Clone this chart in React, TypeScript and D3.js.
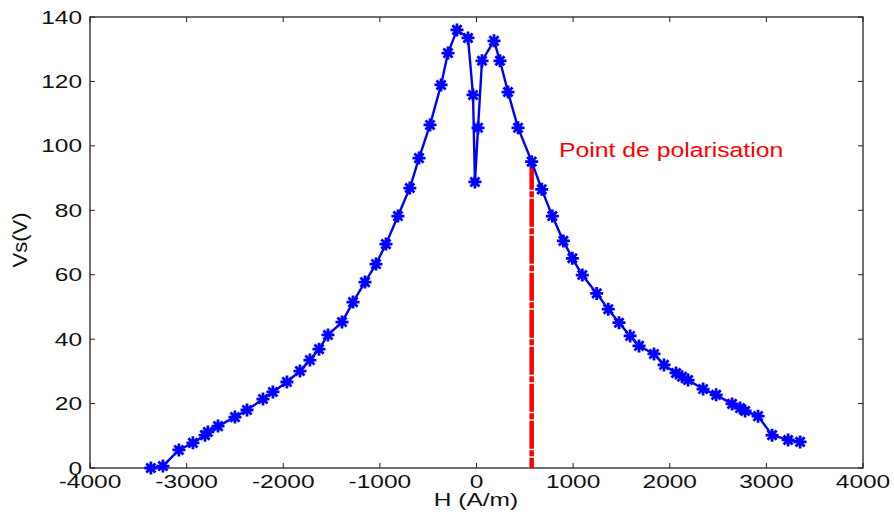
import React from "react";
import * as d3 from "d3";

// H (A/m) and Vs (V) in drawing order
const hValues = [
  -3370, -3245, -3080, -2935, -2810, -2780, -2675, -2500, -2375, -2210,
  -2107, -1962, -1827, -1724, -1630, -1537, -1392, -1278, -1154, -1040,
  -937, -813, -690, -595, -481, -367, -295, -202, -88, -36,
  -16, 16, 57, 181, 243, 326, 430, 571, 675, 785,
  899, 992, 1095, 1244, 1364, 1475, 1590, 1682, 1837, 1941,
  2065, 2127, 2190, 2345, 2480, 2645, 2728, 2780, 2914, 3059,
  3225, 3349,
];
const vsValues = [
  0, 0.6, 5.6, 7.8, 10.2, 11.2, 13, 15.8, 18, 21.4,
  23.6, 26.7, 30.1, 33.5, 36.9, 41.3, 45.3, 51.5, 57.7, 63.3,
  69.5, 78.2, 86.9, 96.2, 106.5, 118.9, 128.8, 136, 133.5, 115.8,
  88.8, 105.6, 126.4, 132.6, 126.4, 116.7, 105.6, 95.1, 86.5, 78.2,
  70.5, 65.1, 59.9, 54.2, 49.3, 45.1, 41, 37.9, 35.4, 32,
  29.5, 28.3, 27.3, 24.5, 22.7, 19.9, 18.6, 17.7, 16.1, 10.2,
  8.7, 8.1,
];
const xTicks = [-4000, -3000, -2000, -1000, 0, 1000, 2000, 3000, 4000];
const yTicks = [0, 20, 40, 60, 80, 100, 120, 140];
const polarH = 571;
const polarVs = 95.1;
const polarLabel = "Point de polarisation";

const W = 894;
const H = 513;
const margin = { top: 17, right: 31, bottom: 45, left: 90 };
const font = "'Liberation Sans', Arial, sans-serif";
const sx = 1.4; // the picture is stretched sideways

export default function App() {
  const x = d3.scaleLinear().domain([-4000, 4000]).range([margin.left, W - margin.right]);
  const y = d3.scaleLinear().domain([0, 140]).range([H - margin.bottom, margin.top]);
  const pts = hValues.map((h, i) => [h, vsValues[i]] as [number, number]);
  const line = d3.line<[number, number]>().x(d => x(d[0])).y(d => y(d[1]));
  const r = 6.5;
  const star = `M${-r},0H${r}M0,${-r}V${r}M${-r * 0.7},${-r * 0.7}L${r * 0.7},${r * 0.7}M${-r * 0.7},${r * 0.7}L${r * 0.7},${-r * 0.7}`;
  const x0 = margin.left, x1 = W - margin.right, y0 = H - margin.bottom, y1 = margin.top;
  const tk = 5;

  return (
    <svg width={W} height={H} style={{ position: "absolute", left: 0, top: 0, background: "#fff" }}>
      <rect x={0} y={0} width={W} height={H} fill="#fff" />
      {/* ticks, all four sides, pointing in */}
      {xTicks.map(t => (
        <g key={"xt" + t} stroke="#222" strokeWidth={1}>
          <line x1={x(t)} x2={x(t)} y1={y0} y2={y0 - tk} />
          <line x1={x(t)} x2={x(t)} y1={y1} y2={y1 + tk} />
        </g>
      ))}
      {yTicks.map(t => (
        <g key={"yt" + t} stroke="#222" strokeWidth={1}>
          <line x1={x0} x2={x0 + tk} y1={y(t)} y2={y(t)} />
          <line x1={x1} x2={x1 - tk} y1={y(t)} y2={y(t)} />
        </g>
      ))}
      <rect x={x0} y={y1} width={x1 - x0} height={y0 - y1} fill="none" stroke="#222" strokeWidth={1.3} />

      {xTicks.map(t => (
        <text key={"xl" + t} transform={`translate(${x(t)},488) scale(${sx},1)`} textAnchor="middle"
          fontFamily={font} fontSize={17.5} fill="#111">{t}</text>
      ))}
      {yTicks.map(t => (
        <text key={"yl" + t} transform={`translate(82,${y(t) + 6.5}) scale(${sx},1)`} textAnchor="end"
          fontFamily={font} fontSize={17.5} fill="#111">{t}</text>
      ))}
      <text transform={`translate(476,506) scale(${sx},1)`} textAnchor="middle" fontFamily={font} fontSize={17.5} fill="#111">H (A/m)</text>
      <text transform={`translate(27,240) scale(${sx},1) rotate(-90)`} textAnchor="middle" fontFamily={font} fontSize={15}
        textLength={55} lengthAdjust="spacingAndGlyphs" fill="#111">Vs(V)</text>

      {/* polarisation marker */}
      <line x1={x(polarH)} x2={x(polarH)} y1={y(polarVs)} y2={y(0)} stroke="#ff0000" strokeWidth={4.5}
        strokeDasharray="28,1.5,6,1.5" />
      <text transform={`translate(559,157) scale(1.27,1)`} fontFamily={font} fontSize={19.5} fill="#ff0000">{polarLabel}</text>

      <path d={line(pts) || ""} fill="none" stroke="#0000ff" strokeWidth={2.4} strokeLinejoin="round" />
      {pts.map((p, i) => (
        <path key={i} d={star} transform={`translate(${x(p[0])},${y(p[1])})`} stroke="#0000ff" strokeWidth={2.8} fill="none" />
      ))}
    </svg>
  );
}
